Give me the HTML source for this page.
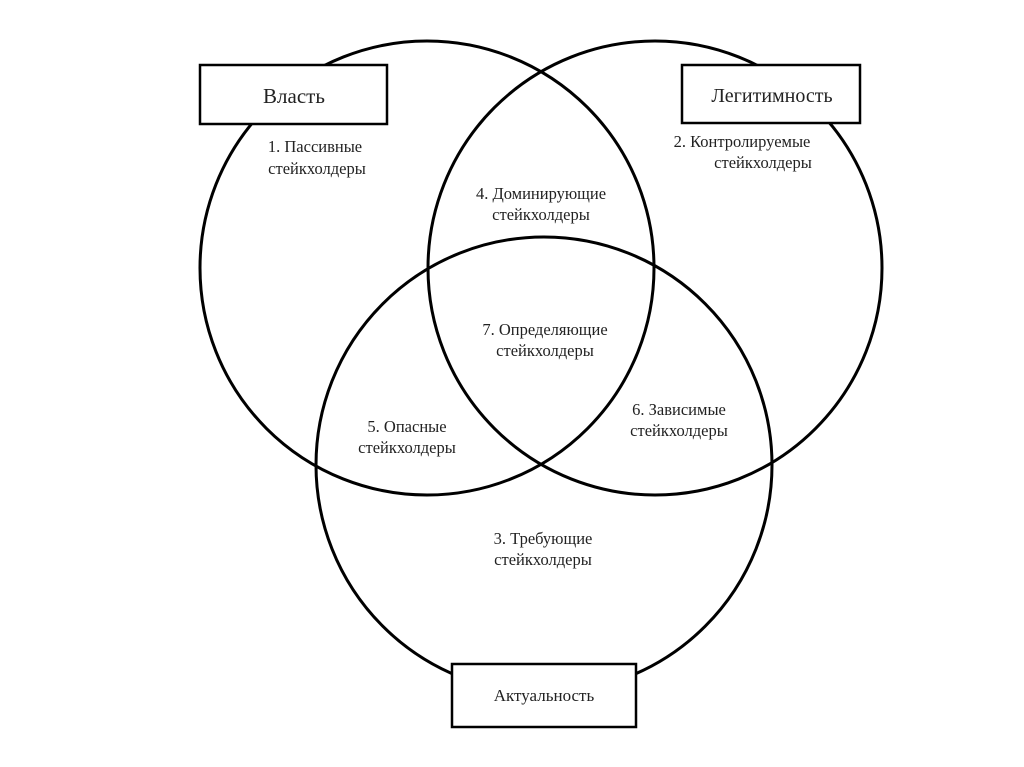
<!DOCTYPE html>
<html><head><meta charset="utf-8"><style>
html,body{margin:0;padding:0;background:#fff;}
</style></head><body>
<svg width="1024" height="767" viewBox="0 0 1024 767" xmlns="http://www.w3.org/2000/svg" style="display:block">
<rect width="1024" height="767" fill="#fff"/>
<g fill="none" stroke="#000" stroke-width="3">
<circle cx="427" cy="268" r="227"/>
<circle cx="655" cy="268" r="227"/>
<circle cx="544" cy="465" r="228"/>
</g>
<g fill="#fff" stroke="#000" stroke-width="2.5">
<rect x="200" y="65" width="187" height="59"/>
<rect x="682" y="65" width="178" height="58"/>
<rect x="452" y="664" width="184" height="63"/>
</g>
<g font-family="'Liberation Serif','DejaVu Serif',serif" fill="#222" text-anchor="middle">
<text x="294" y="103" font-size="21">Власть</text>
<text x="772" y="102" font-size="20">Легитимность</text>
<text x="544" y="701" font-size="17">Актуальность</text>
<g font-size="16.5">
<text x="315" y="152">1. Пассивные</text>
<text x="317" y="174">стейкхолдеры</text>
<text x="742" y="147">2. Контролируемые</text>
<text x="763" y="168">стейкхолдеры</text>
<text x="541" y="199">4. Доминирующие</text>
<text x="541" y="220">стейкхолдеры</text>
<text x="545" y="335">7. Определяющие</text>
<text x="545" y="356">стейкхолдеры</text>
<text x="679" y="415">6. Зависимые</text>
<text x="679" y="436">стейкхолдеры</text>
<text x="407" y="432">5. Опасные</text>
<text x="407" y="453">стейкхолдеры</text>
<text x="543" y="544">3. Требующие</text>
<text x="543" y="565">стейкхолдеры</text>
</g>
</g>
</svg>
</body></html>
